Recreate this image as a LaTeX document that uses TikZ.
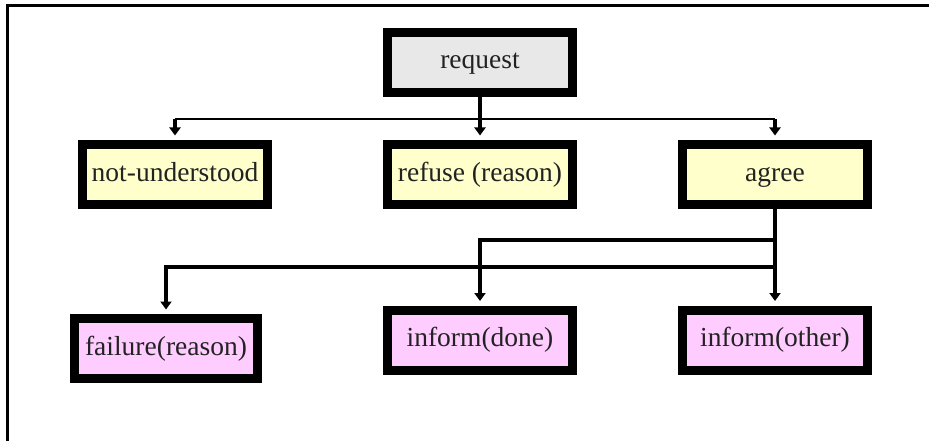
\documentclass[tikz,border=0pt]{standalone}
\usepackage{fontspec}
\setmainfont{Liberation Serif}
\usetikzlibrary{arrows.meta}
\definecolor{reqgray}{HTML}{E8E8E8}
\definecolor{ansyellow}{HTML}{FFFFCC}
\definecolor{respink}{HTML}{FFCCFF}
\definecolor{txt}{HTML}{222222}
\tikzset{
  msg/.style={draw=black, line width=9pt, inner sep=0pt,
    minimum width=185pt, minimum height=60pt, text=txt,
    text height=19pt, text depth=6pt,
    font=\fontsize{27.5}{33}\selectfont},
  reqbox/.style={msg, fill=reqgray},
  ansbox/.style={msg, fill=ansyellow},
  resbox/.style={msg, fill=respink},
  link/.style={line width=3.4pt, draw=black},
  buslink/.style={line width=2.2pt, draw=black},
  arr/.style={link, -{Triangle[width=11pt,length=8pt]}, shorten >=4.5pt},
  frameline/.style={line width=3pt, draw=black}
}
\begin{document}
\begin{tikzpicture}[x=1pt,y=-1pt]
  \useasboundingbox (0,0) rectangle (929,441);
  \fill[white] (0,0) rectangle (929,441);
  % open frame: left and top edges
  \draw[frameline] (7.5,441) -- (7.5,5.5) -- (929,5.5);

  % message boxes
  \node[reqbox] (request) at (480,62.5) {request};
  \node[ansbox] (nu)      at (175,174.5) {not-understood};
  \node[ansbox] (refuse)  at (480,174.5) {refuse (reason)};
  \node[ansbox] (agree)   at (775,174.5) {agree};
  \node[resbox, minimum width=183pt] (failure) at (166,348.5) {failure(reason)};
  \node[resbox] (done)    at (480,340) {inform(done)};
  \node[resbox] (other)   at (775,340) {inform(other)};

  % bus levels
  \coordinate (bus1) at (480,119);
  \coordinate (bus2) at (775,240);
  \coordinate (bus3) at (775,267);

  % request -> first answers
  \draw[buslink] (nu.north |- bus1) -- (agree.north |- bus1);
  \draw[arr] (request.south) -- (refuse.north);
  \draw[arr] (nu.north |- bus1) -- (nu.north);
  \draw[arr] (agree.north |- bus1) -- (agree.north);

  % agree -> results
  \draw[arr] (agree.south) -- (other.north);
  \draw[arr] (bus2) -- (done.north |- bus2) -- (done.north);
  \draw[arr] (bus3) -- (failure.north |- bus3) -- (failure.north);
\end{tikzpicture}
\end{document}
